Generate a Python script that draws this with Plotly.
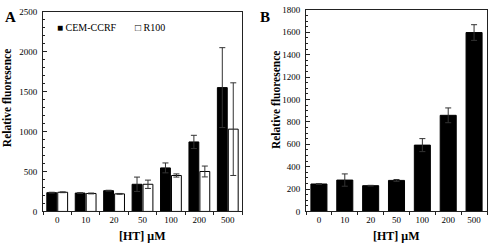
import plotly.graph_objects as go

categories = ["0", "10", "20", "50", "100", "200", "500"]

# Panel A
cem_values = [235, 230, 260, 340, 545, 870, 1550]
cem_errors = [5, 5, 5, 90, 62, 83, 500]
r100_values = [240, 225, 220, 340, 450, 500, 1030]
r100_errors = [5, 5, 5, 52, 20, 68, 580]

# Panel B
b_values = [245, 280, 230, 277, 592, 858, 1597]
b_errors = [3, 55, 3, 8, 58, 66, 70]

W, H = 488, 251
FONT = "Liberation Serif"
AXC = "#222"


def px_x(v):
    return v / W


def px_y(v):
    return 1 - v / H


fig = go.Figure()

fig.add_trace(go.Bar(
    x=categories, y=cem_values, name="CEM-CCRF",
    marker=dict(color="black", line=dict(color="black", width=1)),
    error_y=dict(type="data", array=cem_errors, color="#333", thickness=1, width=3),
    xaxis="x", yaxis="y", showlegend=False, offsetgroup="a1",
))
fig.add_trace(go.Bar(
    x=categories, y=r100_values, name="R100",
    marker=dict(color="white", line=dict(color="black", width=1)),
    error_y=dict(type="data", array=r100_errors, color="#333", thickness=1, width=3),
    xaxis="x", yaxis="y", showlegend=False, offsetgroup="a2",
))
fig.add_trace(go.Bar(
    x=categories, y=b_values, name="B",
    marker=dict(color="black", line=dict(color="black", width=1)),
    error_y=dict(type="data", array=b_errors, color="#333", thickness=1, width=3),
    xaxis="x2", yaxis="y2", showlegend=False, width=0.62,
))

common_x = dict(
    type="category", showline=True, linecolor=AXC, linewidth=1, mirror=True,
    ticks="outside", tickson="boundaries", ticklen=3, tickcolor=AXC,
    tickfont=dict(family=FONT, size=9, color="black"), showgrid=False, zeroline=False,
)
common_y = dict(
    showline=True, linecolor=AXC, linewidth=1, mirror=True,
    ticks="inside", ticklen=4, tickcolor=AXC,
    tickfont=dict(family=FONT, size=9, color="black"), showgrid=False, zeroline=False,
    ticklabelstandoff=3,
)

fig.update_layout(
    width=W, height=H,
    margin=dict(l=0, r=0, t=0, b=0),
    paper_bgcolor="white", plot_bgcolor="white",
    barmode="group", bargap=0.23, bargroupgap=0.1,
    xaxis=dict(domain=[px_x(43), px_x(242)], anchor="y", **common_x),
    yaxis=dict(domain=[px_y(215), px_y(7)], anchor="x", range=[0, 2500],
               tickmode="linear", tick0=0, dtick=500,
               minor=dict(ticks="inside", ticklen=2, dtick=100, tickcolor=AXC),
               **common_y),
    xaxis2=dict(domain=[px_x(306), px_x(487)], anchor="y2", **common_x),
    yaxis2=dict(domain=[px_y(215), px_y(5)], anchor="x2", range=[0, 1800],
                tickmode="linear", tick0=0, dtick=200,
                minor=dict(ticks="inside", ticklen=2, dtick=50, tickcolor=AXC),
                **common_y),
)

annos = [
    dict(text="<b>A</b>", x=px_x(10), y=px_y(12)),
    dict(text="<b>B</b>", x=px_x(265), y=px_y(12)),
]
for a in annos:
    fig.add_annotation(xref="paper", yref="paper", showarrow=False,
                       font=dict(family=FONT, size=15, color="black"),
                       xanchor="center", yanchor="middle", **a)

# axis titles
for xc, yc in ((7, 97), (276, 99)):
    fig.add_annotation(xref="paper", yref="paper", showarrow=False, textangle=-90,
                       text="<b>Relative fluoresence</b>", x=px_x(xc), y=px_y(yc),
                       xanchor="center", yanchor="middle",
                       font=dict(family=FONT, size=11.5, color="black"))
for xc in (142, 396):
    fig.add_annotation(xref="paper", yref="paper", showarrow=False,
                       text="<b>[HT] μM</b>", x=px_x(xc), y=px_y(241),
                       xanchor="center", yanchor="middle",
                       font=dict(family=FONT, size=12, color="black"))

# legend in panel A
fig.add_annotation(xref="paper", yref="paper", showarrow=False,
                   text="■ CEM-CCRF", x=px_x(55), y=px_y(23),
                   xanchor="left", yanchor="middle",
                   font=dict(family=FONT, size=10, color="black"))
fig.add_annotation(xref="paper", yref="paper", showarrow=False,
                   text="□ R100", x=px_x(133), y=px_y(23),
                   xanchor="left", yanchor="middle",
                   font=dict(family=FONT, size=10, color="black"))

fig.write_html(
    "out.html",
    config={"displayModeBar": False},
    post_script="document.body.style.margin='0';document.body.style.overflow='hidden';",
)
